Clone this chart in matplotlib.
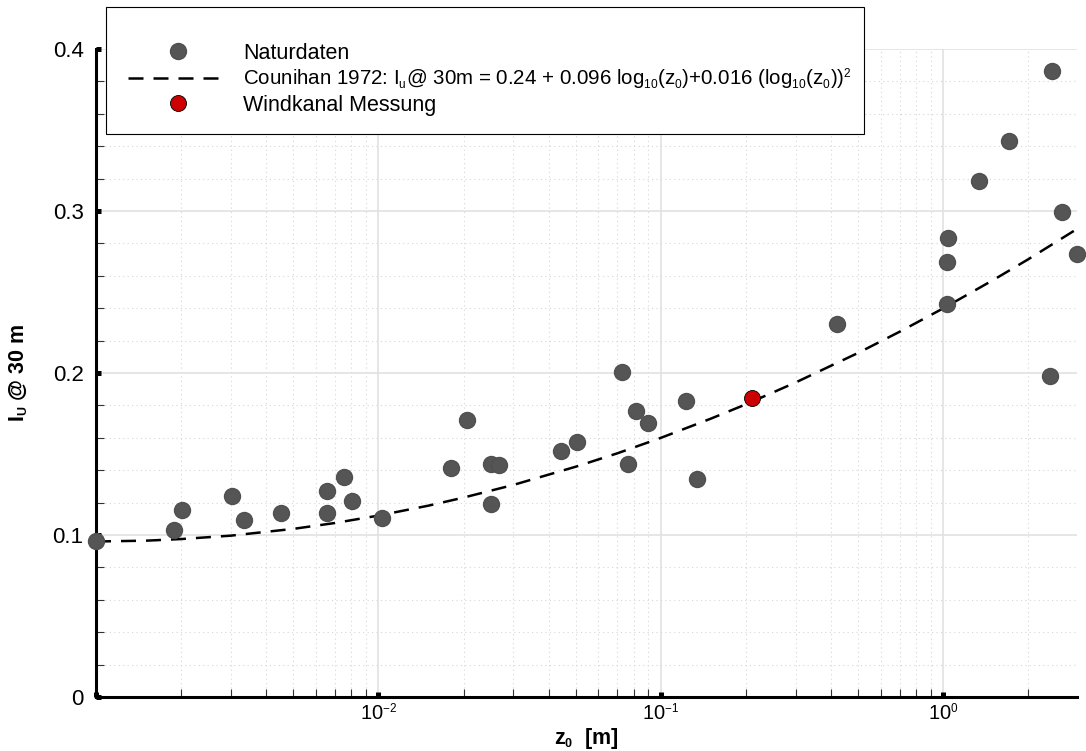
import matplotlib
matplotlib.use("Agg")
import matplotlib.pyplot as plt
import matplotlib._mathtext as mathtext_internal
from matplotlib.patches import Rectangle
from matplotlib.ticker import LogLocator, NullFormatter, MultipleLocator

plt.rcParams['font.family'] = ['Liberation Sans', 'DejaVu Sans']
plt.rcParams['mathtext.default'] = 'regular'
plt.rcParams['axes.unicode_minus'] = False
# the original uses rather small sub/superscripts
mathtext_internal.SHRINK_FACTOR = 0.58

# Naturdaten
nat_z0 = [0.001, 0.00189, 0.00201, 0.00304, 0.00333, 0.00452, 0.00659, 0.00659,
          0.00752, 0.00803, 0.0103, 0.018, 0.0205, 0.0251, 0.0251, 0.0267,
          0.0442, 0.0505, 0.0728, 0.0764, 0.0818, 0.0902, 0.1225, 0.1337,
          0.419, 1.03, 1.03, 1.036, 1.337, 1.707, 2.39, 2.42, 2.634, 2.966]
nat_iu = [0.0965, 0.103, 0.1154, 0.124, 0.109, 0.1134, 0.1273, 0.1136,
          0.1356, 0.121, 0.1103, 0.1415, 0.1708, 0.144, 0.1191, 0.1434,
          0.152, 0.1572, 0.2008, 0.1438, 0.1763, 0.1691, 0.1829, 0.1344,
          0.2302, 0.2424, 0.2683, 0.2835, 0.3185, 0.3434, 0.1983, 0.3866, 0.2992, 0.2735]

# Counihan curve
cou_z0 = [0.001, 0.0015, 0.002, 0.003, 0.005, 0.007, 0.01, 0.015, 0.02, 0.03, 0.05,
          0.07, 0.1, 0.15, 0.2, 0.3, 0.5, 0.7, 1.0, 1.5, 2.0, 3.0]
cou_iu = [0.096, 0.0965, 0.0975, 0.0996, 0.1038, 0.1074, 0.112, 0.1181, 0.1231, 0.1309, 0.1422,
          0.1504, 0.160, 0.1718, 0.1807, 0.1942, 0.2125, 0.2255, 0.240, 0.2574, 0.2703, 0.2894]

# Windkanal Messung
wk_z0 = [0.21]
wk_iu = [0.1846]

fig = plt.figure(figsize=(10.86, 7.51), dpi=100)
ax = fig.add_axes([0.0884, 0.0719, 0.9033, 0.8628])

h_nat = ax.plot(nat_z0, nat_iu, 'o', color='#555555', markeredgecolor='#505050',
                markersize=11.5, clip_on=False, zorder=4, label='Naturdaten')[0]
h_cou = ax.plot(cou_z0, cou_iu, color='black', lw=1.8, dashes=(6, 4), zorder=3,
                label=r'Counihan 1972: I$_{u}$@ 30m = 0.24 + 0.096 log$_{10}$(z$_{0}$)+0.016 (log$_{10}$(z$_{0}$))$^{2}$')[0]
h_wk = ax.plot(wk_z0, wk_iu, 'o', color='#cc0000', markeredgecolor='black', markeredgewidth=0.6,
               markersize=11.5, zorder=5, label='Windkanal Messung')[0]

ax.set_xscale('log')
ax.set_xlim(0.001, 2.97)
ax.set_ylim(0, 0.4)

ax.set_xticks([1e-3, 1e-2, 1e-1, 1e0])
ax.set_xticklabels(['', '10$^{-2}$', '10$^{-1}$', '10$^{0}$'])
ax.xaxis.set_minor_locator(LogLocator(base=10, subs=range(2, 10), numticks=20))
ax.xaxis.set_minor_formatter(NullFormatter())
ax.set_yticks([0, 0.1, 0.2, 0.3, 0.4])
ax.set_yticklabels(['0', '0.1', '0.2', '0.3', '0.4'])
ax.yaxis.set_minor_locator(MultipleLocator(0.02))

ax.tick_params(which='major', direction='in', length=3.6, width=3.6, color='black')
ax.tick_params(axis='y', which='major', labelsize=16, pad=9)
ax.tick_params(axis='x', which='major', labelsize=14.5, pad=4)
ax.tick_params(which='minor', direction='in', length=5.8, width=0.8, color='#333333')

for s in ['top', 'right']:
    ax.spines[s].set_visible(False)
for s in ['left', 'bottom']:
    ax.spines[s].set_linewidth(2.2)

ax.grid(which='major', color='#e2e2e2', lw=1.2, linestyle='-')
ax.grid(which='minor', color='#d6d6d6', lw=0.8, linestyle=(0, (1, 3)))
ax.set_axisbelow(True)

ax.set_xlabel('z$_{0}$  [m]', fontsize=15.5, fontweight='bold', labelpad=1)
ax.set_ylabel('I$_{U}$ @ 30 m', fontsize=15.5, fontweight='bold', labelpad=16)

# legend box drawn separately (padding is uneven in the original)
fig.add_artist(Rectangle((105.5 / 1086, 1 - 134 / 751), (864 - 105.5) / 1086, (134 - 7.5) / 751,
                         transform=fig.transFigure, facecolor='white', edgecolor='black',
                         lw=0.8, zorder=3))
leg = fig.legend(handles=[h_nat, h_cou, h_wk], loc='upper left',
                 bbox_to_anchor=(128 / 1086, 1 - 43 / 751), frameon=False, fontsize=15.5,
                 handlelength=4.6, handletextpad=0.75, labelspacing=0.12, borderpad=0,
                 borderaxespad=0)
# formula line is a bit wider in mathtext, keep it inside the box
leg.get_texts()[1].set_fontsize(14.8)

fig.savefig('out.png', dpi=100)
